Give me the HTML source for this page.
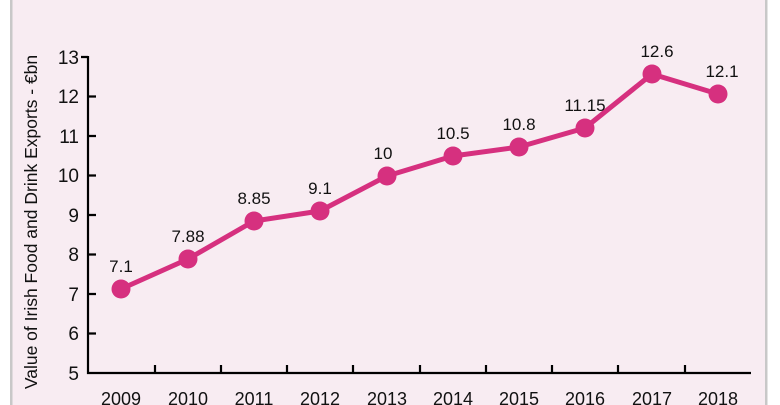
<!DOCTYPE html>
<html><head><style>
body{margin:0;background:#fff;}
svg{display:block;font-family:"Liberation Sans",Arial,sans-serif;}
</style></head><body>
<svg width="780" height="405" viewBox="0 0 780 405">
<rect x="0" y="0" width="780" height="405" fill="#fff"/>
<rect x="12" y="0" width="754" height="405" fill="#f8ecf2"/>
<rect x="10" y="0" width="2.5" height="405" fill="#c8c8c8"/>
<rect x="765" y="0" width="2.5" height="405" fill="#c8c8c8"/>
<text transform="translate(37,222) rotate(-90)" text-anchor="middle" font-size="17.5" fill="#111">Value of Irish Food and Drink Exports - €bn</text>
<g stroke="#000" stroke-width="2.2" fill="none">
<path d="M88,56 V373 H751"/>
<path d="M81,57 H88 M88,96.5 H96 M88,136 H96 M88,175.5 H96 M88,215 H96 M88,254.5 H96 M88,294 H96 M88,333.5 H96"/>
<path d="M155,373 V365 M221,373 V365 M287,373 V365 M353,373 V365 M420,373 V365 M486,373 V365 M552,373 V365 M618,373 V365 M685,373 V365"/>
</g>
<g font-size="19" fill="#111" text-anchor="end">
<text x="79" y="64">13</text><text x="79" y="103">12</text><text x="79" y="143">11</text><text x="79" y="182">10</text>
<text x="79" y="222">9</text><text x="79" y="261">8</text><text x="79" y="301">7</text><text x="79" y="340">6</text><text x="79" y="380">5</text>
</g>
<g font-size="18" fill="#111" text-anchor="middle">
<text x="121" y="405">2009</text><text x="188" y="405">2010</text><text x="254" y="405">2011</text><text x="320" y="405">2012</text><text x="387" y="405">2013</text>
<text x="453" y="405">2014</text><text x="519" y="405">2015</text><text x="585" y="405">2016</text><text x="652" y="405">2017</text><text x="718" y="405">2018</text>
</g>
<polyline fill="none" stroke="#d6307f" stroke-width="5" stroke-linejoin="round" points="121,289 188,259 254,221 320,211 387,176 453,156 519,147 585,128 652,74 718,94"/>
<g fill="#d6307f">
<circle cx="121" cy="289" r="9.5"/><circle cx="188" cy="259" r="9.5"/><circle cx="254" cy="221" r="9.5"/><circle cx="320" cy="211" r="9.5"/><circle cx="387" cy="176" r="9.5"/>
<circle cx="453" cy="156" r="9.5"/><circle cx="519" cy="147" r="9.5"/><circle cx="585" cy="128" r="9.5"/><circle cx="652" cy="74" r="9.5"/><circle cx="718" cy="94" r="9.5"/>
</g>
<g font-size="17" fill="#111" text-anchor="middle">
<text x="121" y="272">7.1</text><text x="188" y="242">7.88</text><text x="254" y="204">8.85</text><text x="320" y="194">9.1</text><text x="383" y="159">10</text>
<text x="453" y="139">10.5</text><text x="519" y="130">10.8</text><text x="585" y="111">11.15</text><text x="657" y="57">12.6</text><text x="722" y="77">12.1</text>
</g>
</svg>
</body></html>
